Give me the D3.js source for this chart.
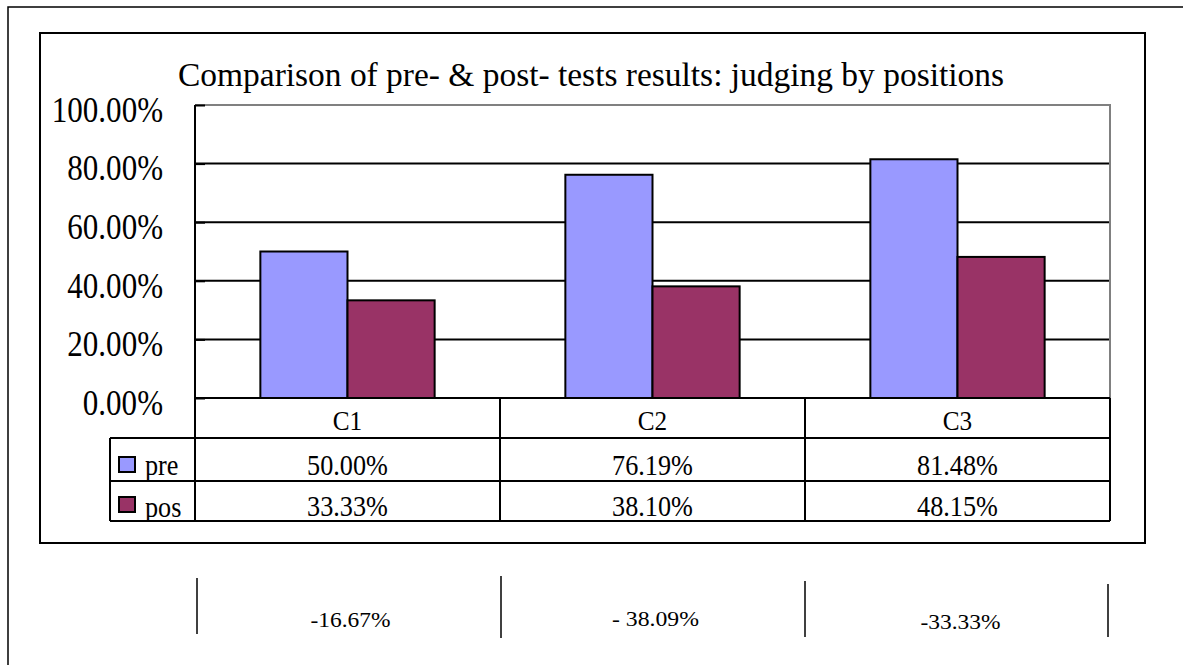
<!DOCTYPE html>
<html><head><meta charset="utf-8">
<script src="https://cdn.jsdelivr.net/npm/d3@7"></script>
<style>
html,body{margin:0;padding:0;background:#fff;}
svg{display:block;}
text{font-family:"Liberation Serif","Times New Roman",serif;fill:#000;}
</style></head>
<body>
<script>
const title = "Comparison of pre- & post- tests results: judging by positions";
const categories = ["C1", "C2", "C3"];
const seriesNames = ["pre", "pos"];
const preValues = [50.00, 76.19, 81.48];
const posValues = [33.33, 38.10, 48.15];
const preLabels = ["50.00%", "76.19%", "81.48%"];
const posLabels = ["33.33%", "38.10%", "48.15%"];
const yTicks = [0, 20, 40, 60, 80, 100];
const diffLabels = ["-16.67%", "- 38.09%", "-33.33%"];
const colors = {pre: "#9999FF", pos: "#993366"};

const W = 1183, H = 665;
const svg = d3.select("body").append("svg").attr("width", W).attr("height", H);

// condense text: measure at base size, then enlarge keeping width
function condense(sel, baseSize, bigSize) {
  sel.each(function() {
    const t = d3.select(this).attr("font-size", baseSize);
    const w = this.getComputedTextLength() * 0.97;
    t.attr("font-size", bigSize).attr("textLength", w).attr("lengthAdjust", "spacingAndGlyphs");
  });
}

// outer frame
svg.append("path").attr("d", `M8,${H} L8,7 L${W},7`).attr("fill","none").attr("stroke","#000").attr("stroke-width",1.5);
// chart box
svg.append("rect").attr("x",40).attr("y",33).attr("width",1105).attr("height",510)
  .attr("fill","#fff").attr("stroke","#000").attr("stroke-width",2);

const L = 195, R = 1110, T = 105, B = 398;
const x = d3.scaleBand().domain(categories).range([L, R]).paddingInner(0).paddingOuter(0);
const inner = d3.scaleBand().domain(seriesNames).range([0, x.bandwidth()]).paddingInner(0).paddingOuter(0.75);
const y = d3.scaleLinear().domain([0, 100]).range([B, T]);

// title
svg.append("text").attr("x", 178).attr("y", 86).attr("font-size", 33)
  .attr("textLength", 826).attr("lengthAdjust","spacingAndGlyphs").text(title);

// gridlines
svg.append("g").selectAll("line").data(yTicks.filter(d => d > 0 && d < 100)).join("line")
  .attr("x1", L).attr("x2", R).attr("y1", d => y(d)).attr("y2", d => y(d))
  .attr("stroke","#000").attr("stroke-width",2);
// plot top and right border (grey)
svg.append("path").attr("d", `M${L},${y(100)} L${R},${y(100)} L${R},${B}`)
  .attr("fill","none").attr("stroke","#808080").attr("stroke-width",2);

// y axis
const yAxis = d3.axisLeft(y).tickValues(yTicks).tickSize(-10).tickFormat(d => d.toFixed(2) + "%");
const gy = svg.append("g").attr("transform", `translate(${L},0)`).call(yAxis);
gy.select(".domain").remove();
gy.selectAll(".tick line").attr("stroke","#000").attr("stroke-width",2);
gy.selectAll(".tick text").attr("x", -32).attr("dy", "0.45em")
  .attr("font-family", "Liberation Serif").attr("fill","#000");
condense(gy.selectAll(".tick text"), 32, 36);

// bars
const groups = svg.append("g").selectAll("g").data(categories).join("g")
  .attr("transform", d => `translate(${x(d)},0)`);
groups.selectAll("rect").data((d,i) => [
  {s:"pre", v: preValues[i]}, {s:"pos", v: posValues[i]}]).join("rect")
  .attr("x", d => inner(d.s)).attr("width", inner.bandwidth())
  .attr("y", d => y(d.v)).attr("height", d => B - y(d.v))
  .attr("fill", d => colors[d.s]).attr("stroke","#000").attr("stroke-width",2);

// data table
const rowBot = 521, tableLeft = 110;
const tg = svg.append("g").attr("stroke","#000").attr("stroke-width",2);
tg.append("line").attr("x1", L).attr("x2", R).attr("y1", B).attr("y2", B);
tg.append("line").attr("x1", tableLeft).attr("x2", R).attr("y1", 438).attr("y2", 438);
tg.append("line").attr("x1", tableLeft).attr("x2", R).attr("y1", 481).attr("y2", 481);
tg.append("line").attr("x1", tableLeft).attr("x2", R).attr("y1", rowBot).attr("y2", rowBot);
tg.append("line").attr("x1", L).attr("x2", L).attr("y1", T).attr("y2", rowBot);
tg.append("line").attr("x1", tableLeft).attr("x2", tableLeft).attr("y1", 438).attr("y2", rowBot);
categories.forEach(c => {
  const xe = x(c) + x.bandwidth();
  tg.append("line").attr("x1", xe).attr("x2", xe).attr("y1", B).attr("y2", rowBot);
});

svg.append("clipPath").attr("id","tclip").append("rect").attr("x",tableLeft).attr("y",B).attr("width",R-tableLeft).attr("height",rowBot-B);
const tt = svg.append("g").attr("clip-path","url(#tclip)");
const catT = tt.selectAll("text.cat").data(categories).join("text").attr("class","cat")
  .attr("x", d => x(d) + x.bandwidth()/2).attr("y", 430).attr("text-anchor","middle").text(d => d);
const preT = tt.selectAll("text.pre").data(preLabels).join("text").attr("class","pre")
  .attr("x", (d,i) => x(categories[i]) + x.bandwidth()/2).attr("y", 475).attr("text-anchor","middle").text(d => d);
const posT = tt.selectAll("text.pos").data(posLabels).join("text").attr("class","pos")
  .attr("x", (d,i) => x(categories[i]) + x.bandwidth()/2).attr("y", 516).attr("text-anchor","middle").text(d => d);
condense(catT, 26, 28);
condense(preT, 27, 29);
condense(posT, 27, 29);
// legend keys
const keyY = {pre: 457, pos: 497};
seriesNames.forEach(s => {
  tt.append("rect").attr("x", 119).attr("y", keyY[s]).attr("width", 16).attr("height", 15)
    .attr("fill", colors[s]).attr("stroke","#000").attr("stroke-width",2);
  const lt = tt.append("text").attr("x", 145).attr("y", keyY[s] + 18 + (s === "pos" ? 2 : 0)).text(s);
  condense(lt, 27, 29);
});

// bottom diff row
const sepX = [197, 501, 805, 1108];
const sepY = [[578,634],[576,638],[581,637],[584,637]];
svg.append("g").selectAll("line").data(sepX).join("line")
  .attr("x1", d => d).attr("x2", d => d)
  .attr("y1", (d,i) => sepY[i][0]).attr("y2", (d,i) => sepY[i][1])
  .attr("stroke","#000").attr("stroke-width",1.5);
const diffY = [627, 626, 629];
const diffW = [80, 87, 80];
svg.append("g").selectAll("text").data(diffLabels).join("text")
  .attr("x", (d,i) => x(categories[i]) + x.bandwidth()/2 + 3 - diffW[i]/2)
  .attr("y", (d,i) => diffY[i]).attr("font-size", 22)
  .attr("textLength", (d,i) => diffW[i]).attr("lengthAdjust","spacingAndGlyphs").text(d => d);
</script>
</body></html>
